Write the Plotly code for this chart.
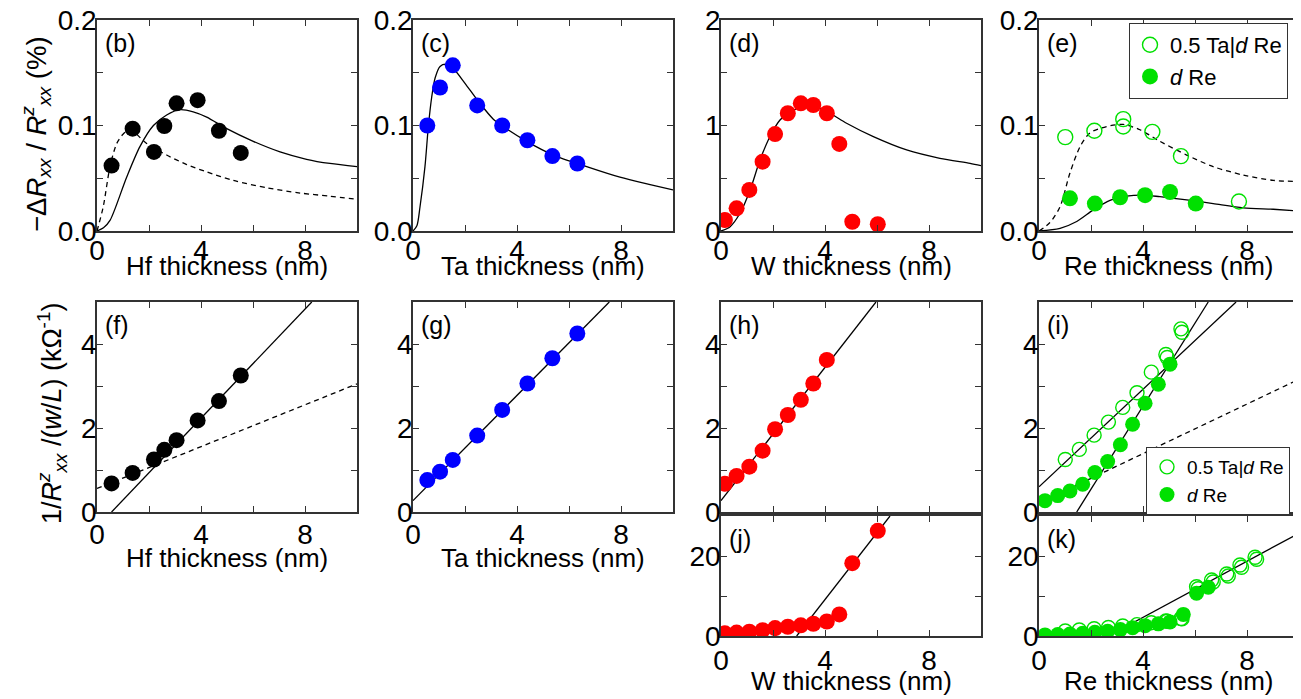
import plotly.graph_objects as go

# ---------------- data ----------------
# Hf
hf_x = [0.56, 1.37, 2.19, 2.59, 3.06, 3.87, 4.69, 5.53]
hf_mr = [0.062, 0.097, 0.075, 0.0995, 0.121, 0.124, 0.095, 0.074]
hf_cond = [0.68, 0.93, 1.25, 1.48, 1.71, 2.18, 2.64, 3.25]
hf_fit_x = [0, 0.25, 0.5, 1.14, 1.65, 2.17, 2.68, 3.19, 3.7, 4.22, 4.99, 6.01, 7.04, 8.06, 8.96, 10]
hf_fit_y = [0, 0.003, 0.010, 0.051, 0.080, 0.100, 0.110, 0.115, 0.113, 0.108, 0.097, 0.085, 0.075, 0.068, 0.064, 0.061]
hf_fit2_x = [0, 0.24, 0.5, 0.76, 1.01, 1.2, 1.40, 1.91, 2.68, 3.45, 4.22, 5.24, 6.53, 7.81, 8.96, 10]
hf_fit2_y = [0, 0.023, 0.061, 0.083, 0.092, 0.095, 0.094, 0.083, 0.072, 0.063, 0.056, 0.048, 0.041, 0.036, 0.033, 0.030]
hf_lin_x = [0.56, 8.26]
hf_lin_y = [0, 5]
hf_lin2_x = [0, 10]
hf_lin2_y = [0.56, 3.05]

# Ta
ta_x = [0.55, 1.04, 1.53, 2.47, 3.43, 4.40, 5.36, 6.32]
ta_mr = [0.100, 0.136, 0.157, 0.119, 0.100, 0.086, 0.071, 0.064]
ta_cond = [0.76, 0.96, 1.24, 1.82, 2.43, 3.06, 3.66, 4.25]
ta_fit_x = [0, 0.15, 0.27, 0.46, 0.59, 0.72, 0.85, 1.04, 1.30, 1.55, 2.0, 2.51, 3.09, 3.47, 4.37, 5.40, 6.68, 7.96, 9.12, 10]
ta_fit_y = [0, 0.005, 0.023, 0.061, 0.099, 0.127, 0.145, 0.156, 0.158, 0.154, 0.140, 0.123, 0.106, 0.099, 0.085, 0.072, 0.061, 0.051, 0.044, 0.039]
ta_lin_x = [0, 7.55]
ta_lin_y = [0.27, 5]

# W
w_x = [0.15, 0.60, 1.09, 1.60, 2.08, 2.57, 3.07, 3.55, 4.07, 4.55, 5.05, 6.03]
w_mr = [0.104, 0.215, 0.389, 0.657, 0.919, 1.116, 1.21, 1.194, 1.116, 0.825, 0.088, 0.064]
w_cond = [0.67, 0.86, 1.08, 1.46, 1.97, 2.31, 2.67, 3.06, 3.62, 5.4, 18.2, 26.3]
w_fit_x = [0, 0.35, 0.73, 1.12, 1.5, 1.88, 2.27, 2.78, 3.29, 3.68, 4.19, 4.83, 5.86, 7.14, 8.42, 9.58, 10]
w_fit_y = [0, 0.041, 0.168, 0.389, 0.673, 0.894, 1.052, 1.147, 1.178, 1.172, 1.116, 1.021, 0.894, 0.768, 0.689, 0.641, 0.62]
w_lin_x = [0, 5.96]
w_lin_y = [0.27, 5]
w_lin2_x = [2.91, 6.5]
w_lin2_y = [0, 30]

# Re  (open: 0.5 Ta|d Re, filled: d Re)
re_open_x = [1.01, 2.13, 3.24, 3.24, 4.36, 5.46, 7.69]
re_open_mr = [0.089, 0.095, 0.106, 0.099, 0.094, 0.071, 0.028]
re_fill_x = [1.19, 2.15, 3.12, 4.08, 5.04, 6.03]
re_fill_mr = [0.031, 0.026, 0.032, 0.034, 0.037, 0.026]
re_fit_open_x = [0, 0.42, 0.81, 1.19, 1.58, 1.96, 2.60, 3.24, 3.88, 4.65, 5.68, 6.70, 7.86, 9.01, 10]
re_fit_open_y = [0, 0.008, 0.023, 0.055, 0.080, 0.093, 0.099, 0.101, 0.096, 0.085, 0.072, 0.061, 0.053, 0.048, 0.047]
re_fit_fill_x = [0, 0.81, 1.45, 2.09, 2.73, 3.37, 4.01, 4.65, 5.68, 6.70, 7.86, 9.01, 10]
re_fit_fill_y = [0, 0.0025, 0.009, 0.020, 0.029, 0.033, 0.034, 0.0325, 0.0295, 0.026, 0.022, 0.0206, 0.019]

re_open_cx = [1.01, 1.55, 2.12, 2.67, 3.22, 3.77, 4.32, 4.88, 4.93, 5.46, 5.50,
              6.06, 6.12, 6.64, 6.70, 7.22, 7.28, 7.73, 7.79, 8.31, 8.37]
re_open_cond = [1.25, 1.49, 1.83, 2.14, 2.49, 2.84, 3.33, 3.75, 3.68, 4.36, 4.28,
                12.3, 11.8, 14.0, 13.5, 15.5, 15.0, 17.75, 17.2, 19.7, 19.2]
re_fill_cx = [0.23, 0.72, 1.19, 1.68, 2.15, 2.64, 3.13, 3.60, 4.08, 4.59, 5.04, 5.55, 6.06, 6.51]
re_fill_cond = [0.27, 0.39, 0.50, 0.66, 0.94, 1.20, 1.60, 2.09, 2.59, 3.04, 3.52, 5.4, 10.7, 12.2]
re_lin_open_x = [0, 7.58]
re_lin_open_y = [0.60, 5]
re_lin_fill_x = [1.45, 6.51]
re_lin_fill_y = [0, 5]
re_lin_dash_x = [0, 10]
re_lin_dash_y = [0.21, 3.16]
re_lin_k_x = [2.67, 10]
re_lin_k_y = [0, 25.7]

x_ticks = [0, 4, 8]
panel_letters = ["(b)", "(c)", "(d)", "(e)", "(f)", "(g)", "(h)", "(i)", "(j)", "(k)"]

# ---------------- layout geometry (pixels in the 1301x699 view) ----------------
VW, VH = 1301, 699
OFF = 8                      # page body margin
W, H = VW - OFF, VH - OFF    # figure size so that it fills the view


def fx(px):
    return (px - OFF) / W


def fy(py):
    return 1 - (py - OFF) / H


FONT = "Liberation Sans, Arial, sans-serif"
BLACK = "#000000"
BLUE = "#0000FF"
RED = "#FF0000"
GREEN = "#00E000"
FRAME = "#333333"

cols = [(97, 357), (413, 673), (721, 981), (1039, 1299)]
row_top = (20, 231)
row_mid = (302, 512)
row_bot = (516, 636)

# panel -> (col, row, yrange, ydtick, yminor, tickformat, show x labels, x label standoff)
panels = [
    (0, row_top, [0, 0.2], 0.1, 0.05, ".1f", True, -6),
    (1, row_top, [0, 0.2], 0.1, 0.05, ".1f", True, -6),
    (2, row_top, [0, 2], 1, 0.5, "d", True, -6),
    (3, row_top, [0, 0.2], 0.1, 0.05, ".1f", True, -6),
    (0, row_mid, [0, 5], 2, 1, "d", True, -3),
    (1, row_mid, [0, 5], 2, 1, "d", True, -3),
    (2, row_mid, [0, 5], 2, 1, "d", False, 0),
    (3, row_mid, [0, 5], 2, 1, "d", False, 0),
    (2, row_bot, [0, 30], 20, 10, "d", True, -1),
    (3, row_bot, [0, 30], 20, 10, "d", True, -1),
]

fig = go.Figure()
layout = {}
for i, (c, (py0, py1), yr, ydt, ymin, tf, showx, xso) in enumerate(panels, start=1):
    px0, px1 = cols[c]
    ax_common = dict(
        showline=True, linecolor=FRAME, linewidth=1.5, mirror="allticks",
        ticks="inside", ticklen=6, tickwidth=1.2, tickcolor=FRAME,
        showgrid=False, zeroline=False, automargin=False,
        ticklabeloverflow="allow",
        tickfont=dict(family=FONT, size=28, color=BLACK),
    )
    layout[f"xaxis{i}"] = dict(
        ax_common, domain=[fx(px0), fx(px1)], range=[0, 10],
        tickmode="array", tickvals=x_ticks, showticklabels=showx,
        ticklabelstandoff=xso,
        minor=dict(ticks="inside", ticklen=6, tickwidth=1.2, tickcolor=FRAME, dtick=2, tick0=0),
        anchor=f"y{i}",
    )
    layout[f"yaxis{i}"] = dict(
        ax_common, domain=[fy(py1), fy(py0)], range=yr,
        dtick=ydt, tick0=0, tickformat=tf, ticklabelstandoff=-7,
        minor=dict(ticks="inside", ticklen=6, tickwidth=1.2, tickcolor=FRAME, dtick=ymin, tick0=0),
        anchor=f"x{i}",
    )


def pts(i, x, y, color, size=16, open_=False, name=None, legend=None):
    if open_:
        marker = dict(symbol="circle-open", size=size - 1, color=color, line=dict(width=1.4, color=color))
    else:
        marker = dict(symbol="circle", size=size, color=color, line=dict(width=0))
    fig.add_trace(go.Scatter(
        x=x, y=y, mode="markers", marker=marker,
        xaxis=f"x{i}", yaxis=f"y{i}",
        showlegend=name is not None, name=name or "", legend=legend or "legend",
    ))


def line(i, x, y, dash="solid", spline=False):
    fig.add_trace(go.Scatter(
        x=x, y=y, mode="lines",
        line=dict(color=BLACK, width=1.3, dash=dash,
                  shape="spline" if spline else "linear", smoothing=0.8),
        xaxis=f"x{i}", yaxis=f"y{i}", showlegend=False,
    ))


DASH = "5px,4px"

# (b) Hf
line(1, hf_fit_x, hf_fit_y, spline=True)
line(1, hf_fit2_x, hf_fit2_y, dash=DASH, spline=True)
pts(1, hf_x, hf_mr, BLACK)
# (c) Ta
line(2, ta_fit_x, ta_fit_y, spline=True)
pts(2, ta_x, ta_mr, BLUE)
# (d) W
line(3, w_fit_x, w_fit_y, spline=True)
pts(3, w_x, w_mr, RED)
# (e) Re
line(4, re_fit_open_x, re_fit_open_y, dash=DASH, spline=True)
line(4, re_fit_fill_x, re_fit_fill_y, spline=True)
pts(4, re_open_x, re_open_mr, GREEN, open_=True, name="0.5 Ta|<i>d</i> Re", legend="legend")
pts(4, re_fill_x, re_fill_mr, GREEN, name="<i>d</i> Re", legend="legend")
# (f) Hf
line(5, hf_lin_x, hf_lin_y)
line(5, hf_lin2_x, hf_lin2_y, dash=DASH)
pts(5, hf_x, hf_cond, BLACK)
# (g) Ta
line(6, ta_lin_x, ta_lin_y)
pts(6, ta_x, ta_cond, BLUE)
# (h) W
line(7, w_lin_x, w_lin_y)
pts(7, w_x, w_cond, RED)
# (i) Re
line(8, re_lin_open_x, re_lin_open_y)
line(8, re_lin_fill_x, re_lin_fill_y)
line(8, re_lin_dash_x, re_lin_dash_y, dash=DASH)
pts(8, re_open_cx, re_open_cond, GREEN, size=15, open_=True, name="0.5 Ta|<i>d</i> Re", legend="legend2")
pts(8, re_fill_cx, re_fill_cond, GREEN, size=15, name="<i>d</i> Re", legend="legend2")
# (j) W
line(9, w_lin2_x, w_lin2_y)
pts(9, w_x, w_cond, RED)
# (k) Re
line(10, re_lin_k_x, re_lin_k_y)
pts(10, re_open_cx, re_open_cond, GREEN, size=15, open_=True)
pts(10, re_fill_cx, re_fill_cond, GREEN, size=15)

annotations = []


def ann(text, px, py, size=26, xanchor="center", yanchor="middle", angle=0):
    annotations.append(dict(
        text=text, x=fx(px), y=fy(py), xref="paper", yref="paper",
        showarrow=False, xanchor=xanchor, yanchor=yanchor, textangle=angle,
        font=dict(family=FONT, size=size, color=BLACK),
    ))


# panel letters
for i, (c, (py0, py1), *_rest) in enumerate(panels):
    ann(panel_letters[i], cols[c][0] + 6, py0 + 23, size=25, xanchor="left")

# x axis titles
xt = ["Hf thickness (nm)", "Ta thickness (nm)", "W thickness (nm)", "Re thickness (nm)"]
for c in range(4):
    ann(xt[c], (cols[c][0] + cols[c][1]) / 2, 266)
ann(xt[0], (cols[0][0] + cols[0][1]) / 2, 558)
ann(xt[1], (cols[1][0] + cols[1][1]) / 2, 558)
ann(xt[2], (cols[2][0] + cols[2][1]) / 2, 681)
ann(xt[3], (cols[3][0] + cols[3][1]) / 2, 681)

# y axis titles
ann("−Δ<i>R</i><sub><i>xx</i></sub> / <i>R</i><sup><i>z</i></sup><sub><i>xx</i></sub> (%)", 36, 134, size=27.5, angle=-90)
ann("1/<i>R</i><sup><i>z</i></sup><sub><i>xx</i></sub> /(<i>w</i>/<i>L</i>) (kΩ<sup>-1</sup>)", 52, 414, size=27, angle=-90)

legend_common = dict(
    bgcolor="white", bordercolor=FRAME, borderwidth=1,
    xanchor="left", yanchor="top", xref="paper", yref="paper",
    tracegroupgap=0, itemsizing="trace", itemwidth=30,
)

fig.update_layout(
    template="none",
    width=W, height=H,
    margin=dict(l=0, r=0, t=0, b=0, pad=0, autoexpand=False),
    paper_bgcolor="white", plot_bgcolor="white",
    annotations=annotations,
    legend=dict(legend_common, x=fx(1129), y=fy(23),
                font=dict(family=FONT, size=22, color=BLACK)),
    legend2=dict(legend_common, x=fx(1146), y=fy(447),
                 font=dict(family=FONT, size=19, color=BLACK)),
    **layout,
)

fig.write_html("out.html")
